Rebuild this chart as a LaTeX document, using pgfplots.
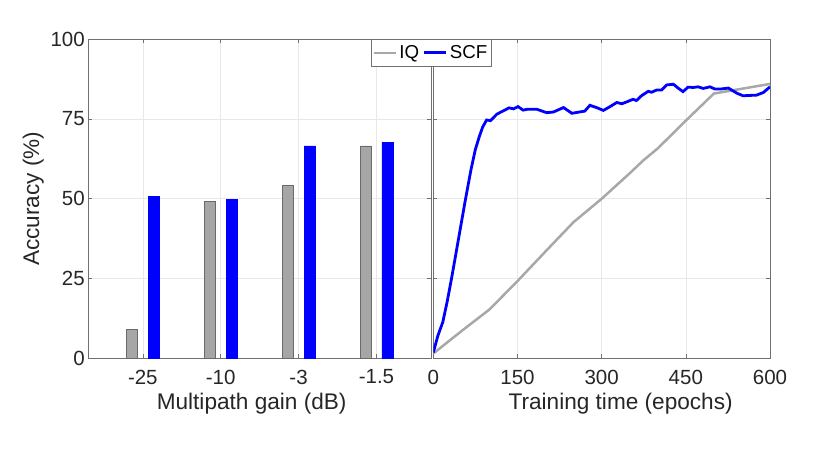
\documentclass[border=0pt]{standalone}
\usepackage{pgfplots}
\pgfplotsset{compat=1.18}
\usepackage{fontspec}
\setmainfont{Liberation Sans}
\definecolor{barg}{HTML}{A6A6A6}
\definecolor{bare}{HTML}{6A6A6A}
\definecolor{lineg}{HTML}{A8A8A8}
\definecolor{axg}{HTML}{707070}
\definecolor{gridg}{HTML}{E8E8E8}
\definecolor{txt}{HTML}{262626}
\pgfplotsset{
  mystyle/.style={
    scale only axis,
    anchor=south west,
    height=319pt,
    ymin=0, ymax=100,
    ytick={0,25,50,75,100},
    axis line style={axg, line width=0.6pt},
    tick style={axg, line width=0.6pt},
    major tick length=4pt,
    tick align=inside,
    xtick pos=both, ytick pos=both,
    grid=major,
    major grid style={gridg, line width=0.6pt},
    ticklabel style={font=\fontsize{20.5}{24}\selectfont, text=txt},
    xticklabel style={yshift=-8pt},
    label style={font=\fontsize{22.6}{26}\selectfont, text=txt},
    /pgf/number format/assume math mode=true,
  }
}
\begin{document}
\begin{tikzpicture}[x=1pt,y=1pt]
\useasboundingbox (-88.3,-98.7) rectangle (741.7,358.3);
\begin{axis}[mystyle,
  at={(0pt,0pt)},
  width=342.7pt,
  xmin=0.3, xmax=4.7,
  xtick={1,2,3,4}, xticklabels={-25,-10,-3,-1.5},
  xlabel={Multipath gain (dB)},
  ylabel={Accuracy (\%)},
  xlabel style={xshift=-8pt, yshift=-2pt},
]
\addplot[ybar, bar width=0.14, bar shift=-0.14, fill=barg, draw=bare, line width=0.6pt]
  coordinates {(1,9.0) (2,49.1) (3,54.1) (4,66.6)};
\addplot[ybar, bar width=0.14, bar shift=0.14, fill=blue, draw=blue, line width=0.6pt]
  coordinates {(1,50.8) (2,49.8) (3,66.6) (4,67.6)};
\end{axis}
\begin{axis}[mystyle,
  at={(345pt,0pt)},
  width=336.7pt,
  xmin=0, xmax=600,
  xtick={0,150,300,450,600},
  yticklabels={},
  xlabel={Training time (epochs)},
  xlabel style={xshift=19pt, yshift=-2pt},
  legend columns=2,
  legend style={at={(-0.0067,1)}, anchor=north, draw=axg, fill=white,
    font=\fontsize{18.7}{21}\selectfont, text=black, inner xsep=1.5pt, inner ysep=4pt,
    /tikz/every even column/.append style={column sep=2pt}},
  legend image code/.code={\draw[#1] (0pt,0pt) -- (22pt,0pt);},
]
\addplot[lineg, line width=2.5pt] coordinates {
(0,1.5) (50,8.5) (100,15.3) (150,24.2) (200,33.5) (250,42.7) (300,50) (350,58)
(374,62) (400,65.8) (450,74.5) (500,83) (550,84.5) (600,86)};
\addlegendentry{IQ}
\addplot[blue, line width=2.8pt] coordinates {
(0,1.8) (8,7) (17,11.4) (25,18) (33,25.5) (45,37.5) (57,49.5) (67,59) (75,65.5)
(82,69.5) (88,72.5) (95,74.7) (102,74.5) (113,76.5) (125,77.6) (135,78.5)
(143,78.2) (151,78.9) (160,77.8) (169,78.1) (184,78.1) (202,77.0) (214,77.2)
(232,78.6) (247,76.8) (270,77.5) (279,79.3) (291,78.6) (303,77.7) (315,78.9)
(327,80.2) (336,79.8) (345,80.4) (356,81.2) (362,80.8) (371,82.3) (383,83.7)
(389,83.4) (398,84.1) (407,84.1) (416,85.7) (428,85.9) (437,84.6) (445,83.6)
(454,85.0) (463,84.9) (472,85.1) (481,84.6) (493,85.1) (502,84.4) (511,84.4)
(526,84.7) (541,83.1) (552,82.3) (564,82.4) (576,82.5) (588,83.3) (600,85.1)};
\addlegendentry{SCF}
\end{axis}
\end{tikzpicture}
\end{document}
